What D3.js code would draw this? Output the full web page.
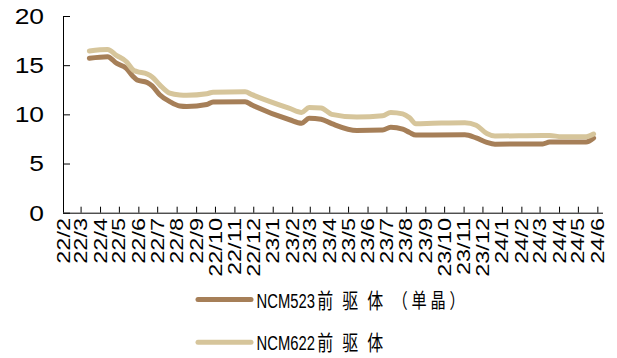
<!DOCTYPE html>
<html>
<head>
<meta charset="utf-8">
<script src="https://cdn.jsdelivr.net/npm/d3@7/dist/d3.min.js"></script>
<style>
  html, body { margin: 0; padding: 0; background: #fff; }
  svg { display: block; }
  text { font-family: "Liberation Sans", Arial, "Noto Sans CJK SC", sans-serif; fill: #000; }
  tspan.cjk { font-family: "Noto Sans CJK SC", sans-serif; }
</style>
</head>
<body>
<svg id="chart" width="617" height="358"></svg>
<script>
// Observation dates (price change points)
const dates = [
  "2022-03-15", "2022-04-13", "2022-04-27", "2022-05-13", "2022-05-24", "2022-05-30",
  "2022-06-15", "2022-06-23", "2022-07-05", "2022-07-21", "2022-08-06", "2022-08-17",
  "2022-09-18", "2022-09-28", "2022-11-18", "2022-11-29", "2023-01-28", "2023-02-16",
  "2023-02-28", "2023-03-19", "2023-04-05", "2023-05-15", "2023-06-25", "2023-07-08",
  "2023-07-27", "2023-08-07", "2023-08-17", "2023-09-13", "2023-11-03", "2023-11-21",
  "2023-12-08", "2023-12-21", "2024-03-06", "2024-03-17", "2024-04-05", "2024-05-14",
  "2024-05-26"
];

// NCM523 precursor (single crystal), 10k yuan / t
const ncm523 = [
  15.70, 15.86, 15.20, 14.68, 13.83, 13.50,
  13.25, 12.90, 12.00, 11.30, 10.85, 10.80,
  11.00, 11.25, 11.29, 10.95, 9.45, 9.10,
  9.60, 9.50, 9.05, 8.35, 8.40, 8.70,
  8.50, 8.15, 7.90, 7.90, 7.92, 7.60,
  7.15, 6.97, 6.99, 7.18, 7.19, 7.19,
  7.60
];

// NCM622 precursor, 10k yuan / t
const ncm622 = [
  16.45, 16.60, 16.00, 15.35, 14.50, 14.35,
  14.10, 13.80, 13.00, 12.15, 11.97, 11.95,
  12.10, 12.25, 12.30, 12.00, 10.60, 10.20,
  10.70, 10.65, 10.00, 9.72, 9.85, 10.20,
  10.05, 9.65, 9.05, 9.09, 9.15, 8.90,
  8.05, 7.80, 7.85, 7.85, 7.72, 7.72,
  8.00
];

const yTicks = [0, 5, 10, 15, 20];
// legend names split into the Latin code and the Chinese description
const seriesCodes = ["NCM523", "NCM622"];
const seriesDesc = ["前驱体", "前驱体"];
const seriesNote = ["（单晶）", ""];
const seriesColors = ["#a67f58", "#d6c59b"];

const parse = d3.utcParse("%Y-%m-%d");
const svg = d3.select("#chart");

const x = d3.scaleUtc()
  .domain([parse("2022-02-01"), parse("2024-06-10")])
  .range([63, 603]);
const y = d3.scaleLinear().domain([0, 20]).range([212.7, 16]);

// series lines
const line = d3.line()
  .x(d => x(d.date))
  .y(d => y(d.value))
  .curve(d3.curveMonotoneX);

[ncm523, ncm622].forEach((vals, i) => {
  const data = dates.map((s, k) => ({ date: parse(s), value: vals[k] }));
  svg.append("path")
    .datum(data)
    .attr("d", line)
    .attr("fill", "none")
    .attr("stroke", seriesColors[i])
    .attr("stroke-width", 5)
    .attr("stroke-linejoin", "round")
    .attr("stroke-linecap", "round");
});

// y axis: inward ticks
const yAxis = svg.append("g").attr("transform", "translate(63,0)")
  .call(d3.axisRight(y).tickValues(yTicks).tickSize(7).tickFormat(""));
yAxis.select(".domain").attr("d", `M0.5,${y(20)}V${y(0)}`).attr("stroke", "#000");
yAxis.selectAll(".tick line").attr("stroke", "#000");

svg.append("g").selectAll("text")
  .data(yTicks)
  .join("text")
  .attr("transform", d => `translate(44,${y(d)}) scale(1.2,1)`)
  .attr("text-anchor", "end")
  .attr("dy", "0.36em")
  .attr("font-size", 22)
  .text(d => d);

// x axis: monthly inward ticks
const months = d3.utcMonth.range(parse("2022-02-01"), parse("2024-06-02"));
const xAxis = svg.append("g").attr("transform", `translate(0,${y(0)})`)
  .call(d3.axisTop(x).tickValues(months.slice(1)).tickSize(6).tickFormat(""));
xAxis.select(".domain").attr("d", `M63,0.5H603`).attr("stroke", "#000");
xAxis.selectAll(".tick line").attr("stroke", "#000");

const fmt = d3.utcFormat("%y/%-m");
svg.append("g").selectAll("text")
  .data(months)
  .join("text")
  .attr("transform", d => `translate(${x(d)},218) rotate(-90) scale(1.29,1)`)
  .attr("text-anchor", "end")
  .attr("dy", "0.36em")
  .attr("font-size", 18.2)
  .text(d => fmt(d));

// legend: one text per row, horizontally condensed
const legendRows = [
  { y: 299.5, base: 308.3 },
  { y: 342.3, base: 350.3 }
];
legendRows.forEach((r, i) => {
  svg.append("line")
    .attr("x1", 198).attr("x2", 251)
    .attr("y1", r.y).attr("y2", r.y)
    .attr("stroke", seriesColors[i])
    .attr("stroke-width", 5)
    .attr("stroke-linecap", "round");
  const t = svg.append("text")
    .attr("transform", `translate(256.5,${r.base}) scale(0.76,1)`)
    .attr("font-size", 19.5);
  t.append("tspan").text(seriesCodes[i]);
  t.append("tspan").attr("class", "cjk")
    .attr("font-size", 21)
    .attr("dx", 3)
    .attr("letter-spacing", 12)
    .text(seriesDesc[i]);
  if (seriesNote[i]) {
    t.append("tspan").attr("class", "cjk")
      .attr("font-size", 20)
      .attr("letter-spacing", 5)
      .text(seriesNote[i]);
  }
});
</script>
</body>
</html>
